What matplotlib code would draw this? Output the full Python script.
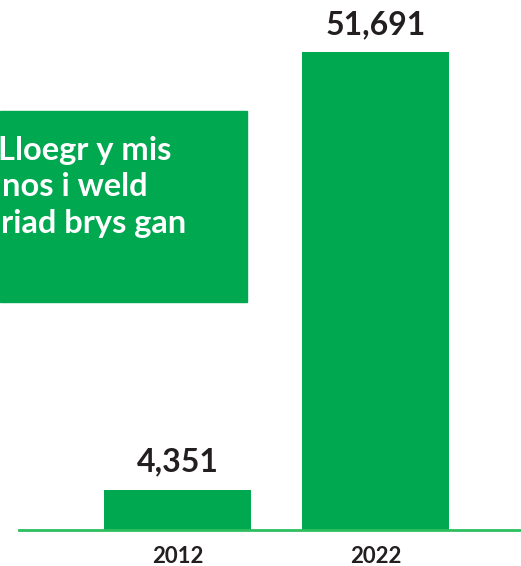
import matplotlib.pyplot as plt
from matplotlib.patches import Rectangle

# data
years = ['2012', '2022']
values = [4351, 51691]
value_labels = ['4,351', '51,691']
box_lines = ['Lloegr y mis', 'nos i weld', 'riad brys gan']

green = '#00a84f'
line_green = '#2dbf5e'
dark = '#231f20'

plt.rcParams['font.family'] = ['Lato', 'DejaVu Sans']

W, H = 521, 566
fig = plt.figure(figsize=(W / 100, H / 100), dpi=100)

# axes: full width, baseline at 530px from top
base_px = 530
ax = fig.add_axes([0, (H - base_px) / H, 1, base_px / H])
pos = [0, 1]
ax.bar(pos, values, width=0.742, color=green, zorder=2)
ax.set_xlim(-177.5 / 198, (521 - 177.5) / 198)
ax.set_ylim(0, 530 / 478 * 51691)
ax.axhline(0, xmin=19 / W, xmax=1, color=line_green, lw=2, zorder=3, clip_on=False)
ax.axis('off')

for p, v, lab in zip(pos, values, value_labels):
    ax.annotate(lab, (p, v), xytext=(0, 13), textcoords='offset pixels',
                ha='center', va='bottom', fontsize=23, fontweight='bold', color=dark)

for p, yr in zip(pos, years):
    ax.annotate(yr, (p, 0), xytext=(0, -33), textcoords='offset pixels',
                ha='center', va='baseline', fontsize=16, fontweight='bold', color=dark)

# green text box on the left, its text runs off the left edge
fig.patches.append(Rectangle((0, 1 - 302 / H), 247 / W, (302 - 111) / H,
                             transform=fig.transFigure, color=green, zorder=1))
line_ends = [171, 148, 186]
for i, (t, xe) in enumerate(zip(box_lines, line_ends)):
    fig.text(xe / W, 1 - (160 + 36.5 * i) / H, t, ha='right', va='baseline',
             fontsize=23.5, fontweight='bold', color='white', zorder=4)

fig.savefig('out.png', dpi=100)
